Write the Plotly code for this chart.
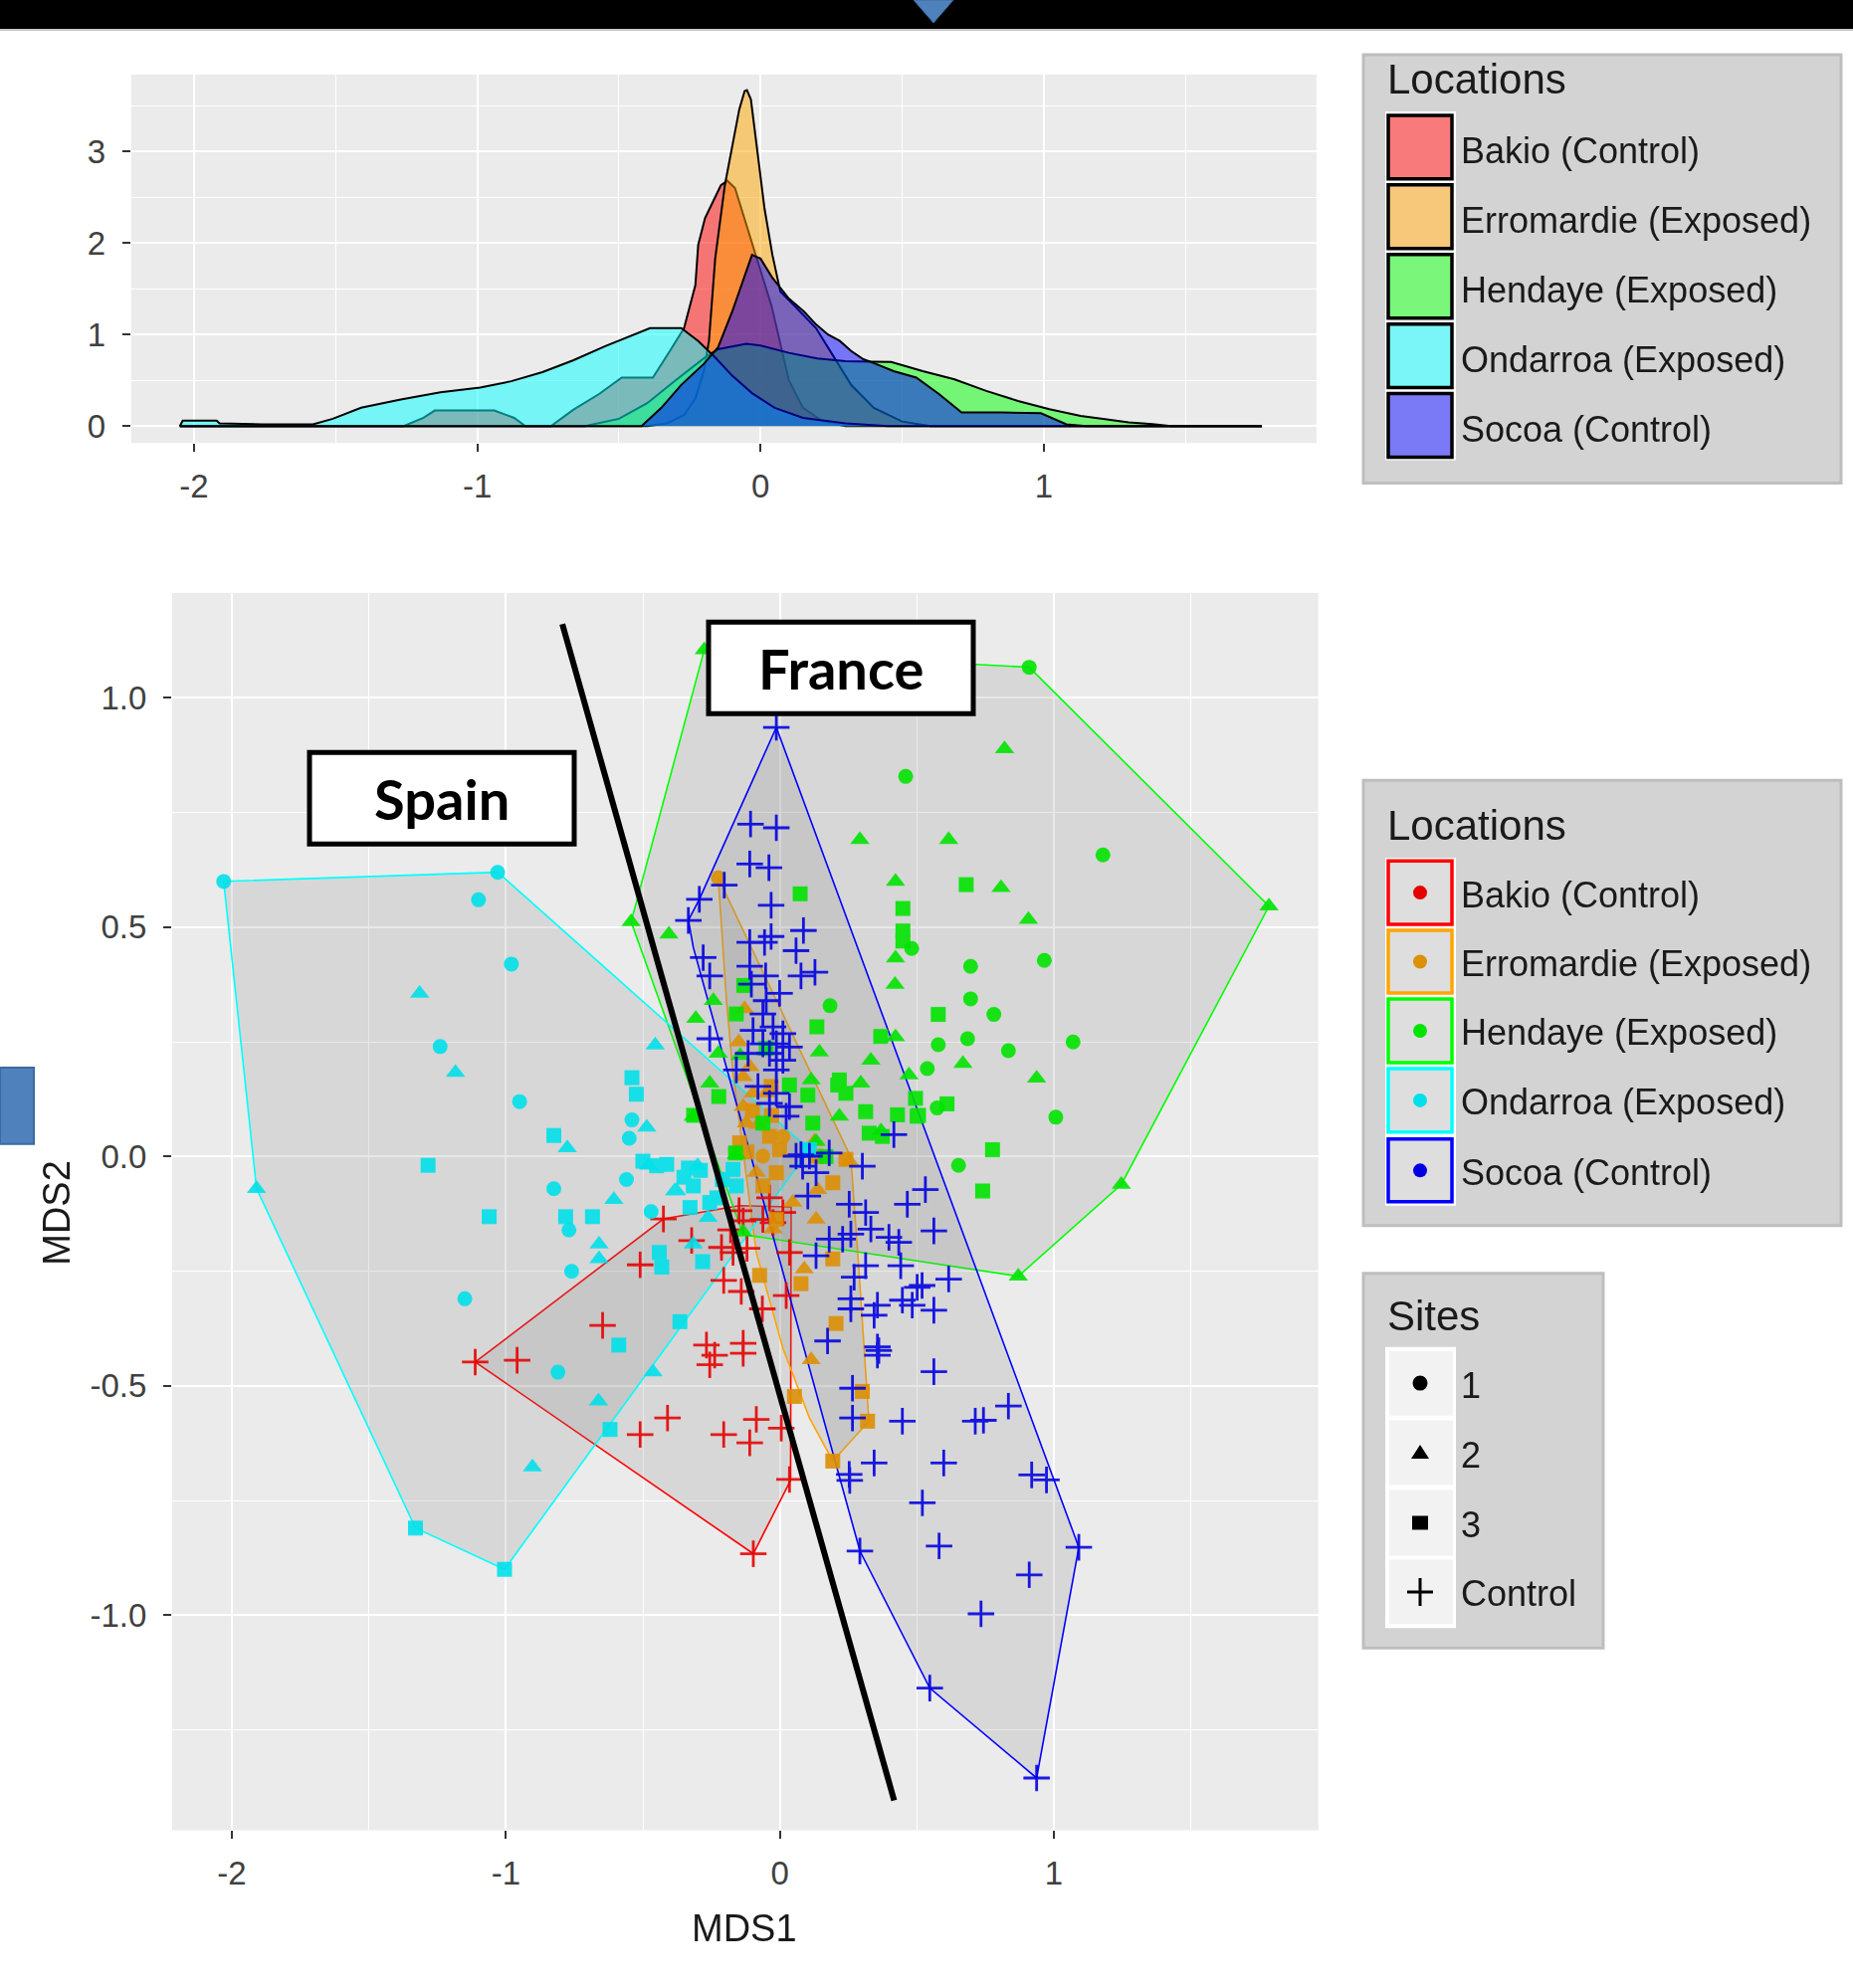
import plotly.graph_objects as go

W, H = 1862, 1998

# ---------------- data ----------------
locations = ["Bakio (Control)", "Erromardie (Exposed)", "Hendaye (Exposed)",
             "Ondarroa (Exposed)", "Socoa (Control)"]
site_labels = ["1", "2", "3", "Control"]

# density curves of MDS1 (x, density)
dens_bakio = [(-2.05, 0), (-1.26, 0), (-1.19, 0.09), (-1.15, 0.17), (-0.94, 0.17), (-0.87, 0.09),
              (-0.83, 0), (-0.74, 0), (-0.66, 0.18), (-0.57, 0.35), (-0.49, 0.53), (-0.38, 0.53),
              (-0.32, 0.82), (-0.27, 1.07), (-0.23, 1.54), (-0.22, 1.98), (-0.196, 2.27),
              (-0.168, 2.45), (-0.14, 2.63), (-0.117, 2.68), (-0.09, 2.6), (-0.06, 2.3),
              (-0.03, 2.0), (0.0, 1.7), (0.04, 1.3), (0.07, 0.9), (0.1, 0.5), (0.15, 0.2),
              (0.22, 0.05), (0.3, 0), (1.77, 0)]
dens_erromardie = [(-2.05, 0), (-0.4, 0), (-0.33, 0.03), (-0.27, 0.12), (-0.23, 0.3), (-0.2, 0.6),
                   (-0.182, 0.93), (-0.16, 1.83), (-0.126, 2.63), (-0.098, 3.1), (-0.075, 3.46),
                   (-0.056, 3.66), (-0.048, 3.67), (-0.034, 3.57), (-0.014, 3.1), (0.014, 2.38),
                   (0.042, 1.87), (0.07, 1.47), (0.112, 1.34), (0.154, 1.2), (0.196, 1.07),
                   (0.25, 0.8), (0.32, 0.45), (0.4, 0.2), (0.5, 0.05), (0.6, 0), (1.77, 0)]
dens_hendaye = [(-2.05, 0), (-0.62, 0), (-0.5, 0.08), (-0.4, 0.25), (-0.3, 0.5), (-0.2, 0.74),
                (-0.15, 0.84), (-0.05, 0.9), (0.0, 0.88), (0.1, 0.8), (0.2, 0.74), (0.3, 0.71),
                (0.391, 0.703), (0.461, 0.7), (0.573, 0.6), (0.685, 0.51), (0.797, 0.384),
                (0.909, 0.275), (1.02, 0.185), (1.13, 0.112), (1.216, 0.076), (1.3, 0.04),
                (1.384, 0.022), (1.45, 0), (1.77, 0)]
dens_ondarroa = [(-2.05, 0), (-2.04, 0.06), (-1.92, 0.06), (-1.91, 0.03), (-1.76, 0.02),
                 (-1.58, 0.02), (-1.51, 0.08), (-1.41, 0.2), (-1.27, 0.29), (-1.13, 0.37),
                 (-0.99, 0.42), (-0.88, 0.49), (-0.77, 0.59), (-0.66, 0.72), (-0.55, 0.87),
                 (-0.46, 0.98), (-0.39, 1.07), (-0.28, 1.07), (-0.22, 0.93), (-0.16, 0.75),
                 (-0.1, 0.55), (-0.03, 0.36), (0.05, 0.2), (0.15, 0.09), (0.3, 0.03),
                 (0.45, 0), (1.77, 0)]
dens_socoa = [(-2.05, 0), (-0.42, 0), (-0.35, 0.2), (-0.28, 0.45), (-0.2, 0.68), (-0.15, 0.86),
              (-0.1, 1.25), (-0.06, 1.6), (-0.03, 1.87), (0.0, 1.83), (0.042, 1.62),
              (0.098, 1.4), (0.154, 1.25), (0.196, 1.11), (0.238, 1.0), (0.28, 0.93),
              (0.32, 0.82), (0.363, 0.73), (0.391, 0.7), (0.47, 0.6), (0.55, 0.53),
              (0.63, 0.35), (0.71, 0.15), (0.85, 0.15), (0.99, 0.14), (1.08, 0.02),
              (1.15, 0), (1.77, 0)]

# NMDS points (MDS1, MDS2)
bakio_control = [(-1.112, -0.448), (-0.959, -0.444), (-0.425, -0.136), (-0.322, -0.183),
                 (-0.213, -0.198), (-0.171, -0.209), (-0.149, -0.118), (-0.51, -0.236),
                 (-0.205, -0.27), (-0.141, -0.294), (-0.647, -0.368), (-0.268, -0.411),
                 (-0.134, -0.14), (-0.134, -0.407), (-0.038, -0.09), (-0.062, -0.137),
                 (0.011, -0.122), (-0.025, -0.144), (0.035, -0.209), (0.023, -0.303),
                 (-0.064, -0.332), (-0.238, -0.433), (-0.134, -0.429), (-0.256, -0.454),
                 (-0.41, -0.57), (-0.086, -0.573), (-0.205, -0.606), (-0.11, -0.624),
                 (0.005, -0.592), (-0.51, -0.606), (0.035, -0.704), (-0.097, -0.866),
                 (-0.18, -0.16), (-0.12, -0.2)]

erromardie_1 = [(-0.225, 0.608), (-0.062, 0.001), (0.011, 0.044)]
erromardie_2 = [(-0.129, 0.322), (-0.11, 0.196), (-0.134, 0.174), (-0.05, 0.138), (-0.098, 0.138),
                (-0.134, 0.109), (-0.122, 0.073), (0.126, 0.033), (0.253, -0.01), (0.047, -0.1),
                (0.138, -0.072), (0.132, -0.137), (-0.025, -0.158), (0.089, -0.245),
                (0.114, -0.443), (-0.086, -0.035), (-0.15, 0.25), (-0.08, 0.07)]
erromardie_3 = [(-0.032, 0.153), (-0.147, 0.03), (-0.038, 0.044), (-0.001, 0.015), (-0.013, -0.035),
                (-0.062, -0.064), (0.132, 0.001), (0.241, -0.006), (0.193, -0.057), (-0.013, -0.137),
                (0.193, -0.223), (0.077, -0.277), (-0.074, -0.259), (0.205, -0.364), (0.053, -0.523),
                (0.301, -0.512), (0.32, -0.577), (0.193, -0.664), (-0.10, 0.10), (-0.12, 0.01),
                (-0.03, 0.09)]

hendaye_1 = [(0.91, 1.067), (0.459, 0.829), (1.179, 0.658), (0.481, 0.454), (0.696, 0.415),
             (0.965, 0.428), (0.696, 0.344), (0.781, 0.31), (0.578, 0.244), (0.685, 0.257),
             (0.834, 0.231), (1.07, 0.25), (0.538, 0.192), (0.574, 0.106), (1.007, 0.086),
             (0.652, -0.019), (0.183, 0.329)]
hendaye_2 = [(-0.276, 1.105), (0.82, 0.889), (0.616, 0.691), (0.292, 0.691), (0.422, 0.6),
             (0.807, 0.586), (0.907, 0.517), (0.422, 0.433), (0.42, 0.375), (0.422, 0.261),
             (0.668, 0.203), (0.937, 0.171), (0.471, 0.178), (1.785, 0.546), (1.246, -0.061),
             (-0.543, 0.512), (-0.405, 0.485), (-0.243, 0.34), (-0.307, 0.301), (0.144, 0.228),
             (0.332, 0.21), (-0.225, 0.225), (-0.256, 0.16), (0.114, 0.167), (0.295, 0.16),
             (0.217, 0.088), (-0.316, 0.088), (0.132, 0.033), (-0.159, 0.004), (-0.145, 0.22),
             (-0.134, -0.165), (0.87, -0.261), (0.369, 0.056)]
hendaye_3 = [(0.68, 0.593), (0.449, 0.541), (0.449, 0.492), (0.449, 0.47), (0.578, 0.31),
             (0.61, 0.115), (0.495, 0.127), (0.429, 0.091), (0.501, 0.088), (0.776, 0.015),
             (0.74, -0.075), (0.074, 0.573), (-0.132, 0.373), (-0.159, 0.311), (0.135, 0.283),
             (0.368, 0.262), (-0.05, 0.236), (-0.223, 0.131), (0.035, 0.156), (0.102, 0.134),
             (0.211, 0.156), (0.241, 0.138), (0.313, 0.098), (0.12, 0.073), (-0.062, 0.073),
             (0.326, 0.051), (0.374, 0.044), (-0.315, 0.09), (-0.162, 0.008), (0.168, 0.0),
             (0.217, 0.167), (0.506, 0.09)]

ondarroa_1 = [(-2.03, 0.60), (-1.03, 0.62), (-1.10, 0.56), (-0.98, 0.42), (-1.24, 0.24),
              (-0.95, 0.12), (-0.825, -0.07), (-0.47, -0.12), (-0.77, -0.16), (-0.76, -0.25),
              (-1.15, -0.31), (-0.54, 0.08), (-0.55, 0.04), (-0.56, -0.05), (-0.81, -0.47)]
ondarroa_2 = [(-1.91, -0.07), (-1.315, 0.356), (-1.184, 0.183), (-0.776, 0.019), (-0.606, -0.094),
              (-0.66, -0.191), (-0.66, -0.223), (-0.316, -0.191), (-0.486, 0.064), (-0.455, 0.243),
              (-0.479, -0.019), (-0.377, -0.075), (-0.262, -0.133), (-0.903, -0.677),
              (-0.662, -0.533), (-0.463, -0.47), (-0.384, -0.075), (-0.30, -0.02)]
ondarroa_3 = [(-1.284, -0.019), (-0.825, 0.046), (-1.061, -0.131), (-0.782, -0.131), (-0.684, -0.131),
              (-0.44, -0.209), (-0.431, -0.241), (-0.282, -0.229), (-0.365, -0.36), (-0.588, -0.411),
              (-0.54, 0.172), (-0.524, 0.136), (-0.413, -0.017), (-0.334, -0.025), (-0.316, -0.064),
              (-0.256, -0.1), (-0.328, -0.111), (-1.33, -0.81), (-1.005, -0.9), (-0.62, -0.595),
              (-0.50, -0.01), (-0.45, -0.02), (-0.171, -0.028), (-0.159, -0.064), (-0.21, -0.05),
              (0.108, 0.015), (-0.29, -0.03), (-0.35, -0.045), (-0.23, -0.09)]

socoa_control = [(-0.013, 0.936), (-0.107, 0.725), (-0.013, 0.717), (-0.11, 0.638), (-0.04, 0.63),
                 (-0.203, 0.592), (-0.294, 0.561), (-0.032, 0.548), (-0.334, 0.515), (0.086, 0.493),
                 (-0.056, 0.467), (-0.032, 0.48), (0.059, 0.449), (-0.28, 0.434), (-0.256, 0.394),
                 (-0.11, 0.415), (-0.052, 0.394), (0.077, 0.394), (0.128, 0.402), (-0.104, 0.376),
                 (-0.001, 0.356), (-0.05, 0.34), (-0.062, 0.311), (-0.025, 0.283), (-0.098, 0.275),
                 (0.011, 0.268), (-0.062, 0.246), (-0.013, 0.246), (0.035, 0.239), (-0.116, 0.225),
                 (-0.038, 0.225), (0.011, 0.21), (-0.256, 0.257), (-0.159, 0.189), (-0.013, 0.189),
                 (-0.08, 0.153), (-0.038, 0.116), (0.035, 0.109), (0.023, 0.088), (-0.013, 0.138),
                 (0.416, 0.048), (0.077, 0.004), (0.18, 0.008), (0.301, -0.021), (0.059, 0.001),
                 (0.108, 0.001), (0.083, -0.021), (0.132, -0.035), (0.531, -0.072), (0.102, -0.086),
                 (0.253, -0.104), (0.313, -0.122), (0.465, -0.104), (0.562, -0.162), (0.332, -0.158),
                 (0.18, -0.18), (0.229, -0.18), (0.259, -0.169), (0.398, -0.176), (0.434, -0.187),
                 (0.132, -0.216), (0.313, -0.238), (0.441, -0.238), (0.616, -0.267), (0.271, -0.263),
                 (0.519, -0.281), (0.501, -0.285), (0.259, -0.31), (0.447, -0.313), (0.483, -0.324),
                 (0.259, -0.332), (0.356, -0.324), (0.344, -0.346), (0.562, -0.335), (0.174, -0.402),
                 (0.356, -0.415), (0.356, -0.433), (0.562, -0.469), (0.265, -0.505), (0.265, -0.57),
                 (0.447, -0.577), (0.344, -0.668), (0.598, -0.668), (0.253, -0.693), (0.713, -0.577),
                 (0.834, -0.544), (0.743, -0.575), (0.919, -0.694), (0.973, -0.705), (1.091, -0.852),
                 (0.91, -0.912), (0.734, -0.997), (0.292, -0.86), (0.52, -0.755), (0.581, -0.849),
                 (0.547, -1.159), (0.937, -1.355), (0.255, -0.706), (0.361, -0.423), (-0.11, 0.467)]

# convex hull outlines (vertices)
hull_bakio = [(-1.112, -0.448), (-0.425, -0.136), (-0.149, -0.107), (0.041, -0.11), (0.039, -0.706),
              (-0.097, -0.866)]
hull_erromardie = [(-0.225, 0.608), (0.259, -0.002), (0.29, -0.26), (0.325, -0.577), (0.193, -0.664),
                   (0.108, -0.57), (0.011, -0.418), (-0.086, -0.21), (-0.171, 0.181), (-0.195, 0.34)]
hull_hendaye = [(-0.543, 0.512), (-0.276, 1.105), (0.91, 1.067), (1.785, 0.546), (1.246, -0.061),
                (0.87, -0.261), (-0.134, -0.17)]
hull_ondarroa = [(-2.03, 0.60), (-1.03, 0.62), (0.108, 0.015), (-1.005, -0.9), (-1.33, -0.81),
                 (-1.91, -0.07)]
hull_socoa = [(-0.013, 0.936), (1.091, -0.852), (0.937, -1.355), (0.547, -1.159), (0.292, -0.86),
              (-0.316, 0.456), (-0.334, 0.515), (-0.294, 0.561)]

divider_line = [(-0.794, 1.161), (0.417, -1.404)]

# ---------------- styling ----------------
line_colors = ["#FF0000", "#FFA500", "#00FF00", "#00FFFF", "#0000FF"]
point_colors = ["#E60000", "#DC9005", "#00E400", "#00E0EA", "#0000E0"]
dens_fills = ["rgba(255,0,0,0.5)", "rgba(255,165,0,0.5)", "rgba(0,255,0,0.5)",
              "rgba(0,255,255,0.5)", "rgba(0,0,255,0.5)"]
legend_fills = ["#F87A7A", "#F7C87A", "#7AF77A", "#7AF6F8", "#7A7AF7"]
FONT = "Liberation Sans, Arial, sans-serif"


def px(x):
    return x / W


def py(y):
    return 1 - y / H


fig = go.Figure()

# density panel
for dens, fillc in zip([dens_bakio, dens_erromardie, dens_hendaye, dens_ondarroa, dens_socoa], dens_fills):
    xs = [p[0] for p in dens]
    ys = [p[1] for p in dens]
    fig.add_trace(go.Scatter(x=xs, y=ys, mode="lines", fill="toself", fillcolor=fillc,
                             line=dict(color="black", width=2), xaxis="x", yaxis="y",
                             hoverinfo="skip", showlegend=False))

# hulls
for hull, lc in zip([hull_bakio, hull_erromardie, hull_hendaye, hull_ondarroa, hull_socoa], line_colors):
    xs = [p[0] for p in hull] + [hull[0][0]]
    ys = [p[1] for p in hull] + [hull[0][1]]
    fig.add_trace(go.Scatter(x=xs, y=ys, mode="lines", fill="toself",
                             fillcolor="rgba(128,128,128,0.18)",
                             line=dict(color=lc, width=1.6), xaxis="x2", yaxis="y2",
                             hoverinfo="skip", showlegend=False))

symbol_style = {
    "1": dict(symbol="circle", size=15),
    "2": dict(symbol="triangle-up", size=17),
    "3": dict(symbol="square", size=15),
}

groups = [
    (0, "Control", bakio_control),
    (1, "1", erromardie_1), (1, "2", erromardie_2), (1, "3", erromardie_3),
    (2, "1", hendaye_1), (2, "2", hendaye_2), (2, "3", hendaye_3),
    (3, "1", ondarroa_1), (3, "2", ondarroa_2), (3, "3", ondarroa_3),
    (4, "Control", socoa_control),
]
for li, site, pts in groups:
    c = point_colors[li]
    xs = [p[0] for p in pts]
    ys = [p[1] for p in pts]
    if site == "Control":
        marker = dict(symbol="cross-thin", size=19, color=c, line=dict(color=c, width=2.8))
    else:
        st = symbol_style[site]
        marker = dict(symbol=st["symbol"], size=st["size"], color=c, line=dict(width=0))
    fig.add_trace(go.Scatter(x=xs, y=ys, mode="markers", marker=marker, opacity=0.9,
                             xaxis="x2", yaxis="y2", name=locations[li] + " " + site,
                             showlegend=False))

# ---------------- axes ----------------
common = dict(showgrid=True, gridcolor="white", gridwidth=2.4, zeroline=False, showline=False,
              ticks="outside", ticklen=8, tickwidth=2.2, tickcolor="#333333",
              tickfont=dict(family=FONT, size=33, color="#404040"))
fig.update_layout(
    xaxis=dict(domain=[px(131.8), px(1322.9)], range=[-2.222, 1.963], anchor="y",
               tickvals=[-2, -1, 0, 1], ticktext=["-2", "-1", "0", "1"],
               minor=dict(tickvals=[-1.5, -0.5, 0.5, 1.5], showgrid=True, gridcolor="white",
                          gridwidth=1.3, ticks=""),
               ticklabelstandoff=6, **common),
    yaxis=dict(domain=[py(445.7), py(75)], range=[-0.185, 3.84], anchor="x",
               tickvals=[0, 1, 2, 3], ticktext=["0", "1", "2", "3"],
               minor=dict(tickvals=[0.5, 1.5, 2.5, 3.5], showgrid=True, gridcolor="white",
                          gridwidth=1.3, ticks=""),
               ticklabelstandoff=10, **common),
    xaxis2=dict(domain=[px(173), px(1324.7)], range=[-2.218, 1.965], anchor="y2",
                tickvals=[-2, -1, 0, 1], ticktext=["-2", "-1", "0", "1"],
                minor=dict(tickvals=[-1.5, -0.5, 0.5, 1.5], showgrid=True, gridcolor="white",
                           gridwidth=1.3, ticks=""),
                ticklabelstandoff=6, **common),
    yaxis2=dict(domain=[py(1841.3), py(596.5)], range=[-1.469, 1.229], anchor="x2",
                tickvals=[-1, -0.5, 0, 0.5, 1], ticktext=["-1.0", "-0.5", "0.0", "0.5", "1.0"],
                minor=dict(tickvals=[-1.25, -0.75, -0.25, 0.25, 0.75], showgrid=True,
                           gridcolor="white", gridwidth=1.3, ticks=""),
                ticklabelstandoff=10, **common),
    plot_bgcolor="#EBEBEB",
    paper_bgcolor="white",
    width=W, height=H,
    margin=dict(l=0, r=0, t=0, b=0),
    showlegend=False,
)

shapes = []
annotations = []


def rect(x0, y0, x1, y1, fill, line_color=None, lw=0, layer="above"):
    shapes.append(dict(type="rect", xref="paper", yref="paper",
                       x0=px(x0), x1=px(x1), y0=py(y1), y1=py(y0),
                       fillcolor=fill, line=dict(color=line_color or fill, width=lw), layer=layer))


def text(x, y, s, size, anchor="left", color="#1A1A1A", family=FONT, angle=0):
    annotations.append(dict(xref="paper", yref="paper", x=px(x), y=py(y), text=s,
                            showarrow=False, xanchor=anchor, yanchor="middle", textangle=angle,
                            font=dict(family=family, size=size, color=color)))


# top black bar + decorations
rect(0, 0, W, 29, "black")
rect(0, 29, W, 31, "#C8C8C8")
shapes.append(dict(type="path", xref="paper", yref="paper",
                   path=f"M {px(918)} {py(0)} L {px(958)} {py(0)} L {px(938)} {py(23)} Z",
                   fillcolor="#4F81BD", line=dict(color="#3A6A9E", width=1)))
rect(0, 1074, 34, 1151, "#4F81BD", "#3A6A9E", 2)

# divider line
shapes.append(dict(type="line", xref="x2", yref="y2",
                   x0=divider_line[0][0], y0=divider_line[0][1],
                   x1=divider_line[1][0], y1=divider_line[1][1],
                   line=dict(color="black", width=6)))

# Spain / France boxes
rect(311, 757, 577, 849, "white", "black", 5)
rect(712, 626, 978, 718, "white", "black", 5)
text(444, 803, "<b>Spain</b>", 56, anchor="center", color="black", family="Lato, Open Sans, sans-serif")
text(845, 672, "<b>France</b>", 56, anchor="center", color="black", family="Lato, Open Sans, sans-serif")

# axis titles
text(748, 1940, "MDS1", 38, anchor="center")
text(57, 1220, "MDS2", 38, anchor="center", angle=-90)

# legend 1 (density fills)
rect(1370, 55, 1850, 486, "#D3D3D3", "#BEBEBE", 3)
rect(1392, 112, 1463, 463, "white")
text(1392, 80, "Locations", 42)
rows1 = [(116, 180), (186, 250), (256, 320), (326, 390), (396, 460)]
for (y0, y1), fc, lab in zip(rows1, legend_fills, locations):
    rect(1395, y0, 1459, y1, fc, "black", 3.5)
    text(1466, (y0 + y1) / 2 + 4, lab, 36)

# legend 2 (point colours)
rect(1370, 785, 1850, 1233, "#D3D3D3", "#BEBEBE", 3)
rect(1392, 863, 1463, 1213, "white")
text(1392, 830, "Locations", 42)
rows2 = [(866, 930), (936, 999), (1005, 1069), (1075, 1139), (1146, 1209)]
for (y0, y1), lc, pc, lab in zip(rows2, line_colors, point_colors, locations):
    rect(1395, y0, 1459, y1, "#DEDEDE", lc, 3.5)
    cy = (y0 + y1) / 2
    shapes.append(dict(type="circle", xref="paper", yref="paper",
                       x0=px(1420), x1=px(1434), y0=py(cy + 7), y1=py(cy - 7),
                       fillcolor=pc, line=dict(color=pc, width=0)))
    text(1466, cy + 2, lab, 36)

# legend 3 (sites)
rect(1370, 1281, 1611, 1658, "#D3D3D3", "#BEBEBE", 3)
rect(1392, 1355, 1463, 1638, "white")
text(1392, 1324, "Sites", 42)
rows3 = [(1359, 1424), (1429, 1494), (1499, 1565), (1569, 1634)]
for (y0, y1), lab in zip(rows3, site_labels):
    rect(1396, y0, 1460, y1, "#F2F2F2")
    text(1466, (y0 + y1) / 2 + 2, lab, 36)
cx = 1427
c1 = sum(rows3[0]) / 2
shapes.append(dict(type="circle", xref="paper", yref="paper", x0=px(cx - 7.5), x1=px(cx + 7.5),
                   y0=py(c1 + 7.5), y1=py(c1 - 7.5), fillcolor="black", line=dict(width=0)))
c2 = sum(rows3[1]) / 2
shapes.append(dict(type="path", xref="paper", yref="paper",
                   path=f"M {px(cx - 9)} {py(c2 + 6)} L {px(cx + 9)} {py(c2 + 6)} L {px(cx)} {py(c2 - 8)} Z",
                   fillcolor="black", line=dict(width=0)))
c3 = sum(rows3[2]) / 2
shapes.append(dict(type="rect", xref="paper", yref="paper", x0=px(cx - 8), x1=px(cx + 8),
                   y0=py(c3 + 7), y1=py(c3 - 7), fillcolor="black", line=dict(width=0)))
c4 = sum(rows3[3]) / 2
shapes.append(dict(type="path", xref="paper", yref="paper",
                   path=f"M {px(cx - 13)} {py(c4)} L {px(cx + 13)} {py(c4)} M {px(cx)} {py(c4 - 14)} L {px(cx)} {py(c4 + 14)}",
                   line=dict(color="black", width=3)))

fig.update_layout(shapes=shapes, annotations=annotations)
fig.write_html("out.html", config={"displayModeBar": False},
               post_script="document.body.style.margin='0px';document.body.style.padding='0px';")
